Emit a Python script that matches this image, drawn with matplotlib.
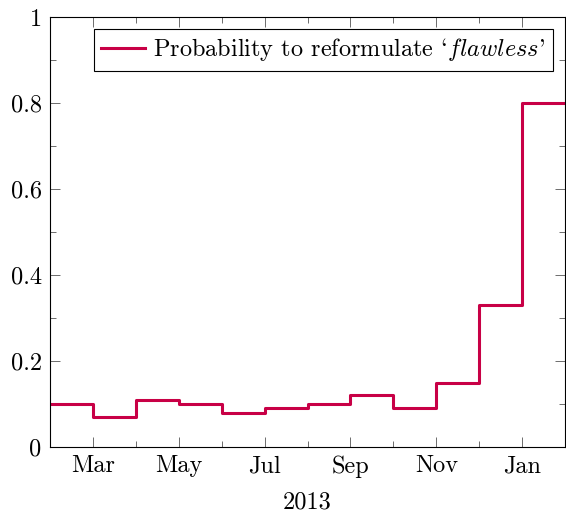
import matplotlib
matplotlib.use('Agg')
import matplotlib.pyplot as plt
from matplotlib.ticker import MultipleLocator, FixedLocator
import numpy as np

# monthly values, Feb 2013 .. Jan 2014 (months are evenly spaced on the axis)
months = ['Feb', 'Mar', 'Apr', 'May', 'Jun', 'Jul', 'Aug', 'Sep', 'Oct', 'Nov', 'Dec', 'Jan']
probability = [0.10, 0.07, 0.11, 0.10, 0.08, 0.09, 0.10, 0.12, 0.09, 0.15, 0.33, 0.80]
x_labeled = ['Mar', 'May', 'Jul', 'Sep', 'Nov', 'Jan']
legend_label = "Probability to reformulate `$\\mathit{flawless}$'"
y_ticks = [0, 0.2, 0.4, 0.6, 0.8, 1]
y_labels = ['0', '0.2', '0.4', '0.6', '0.8', '1']

plt.rcParams['font.family'] = ['cmr10']
plt.rcParams['mathtext.fontset'] = 'cm'
plt.rcParams['axes.unicode_minus'] = False

FS = 17.5

# step needs a closing point at the end of the last month
xs = np.arange(len(months) + 1)
ys = probability + [probability[-1]]

fig = plt.figure(figsize=(5.66, 5.15), dpi=100)
ax = fig.add_axes([50 / 566, 68 / 515, 515 / 566, 430 / 515])

ax.step(xs, ys, where='post', color='#C80046', lw=2.2, label=legend_label)

ax.set_xlim(xs[0], xs[-1])
ax.set_ylim(0, 1)

ax.xaxis.set_major_locator(FixedLocator([months.index(m) for m in x_labeled]))
ax.set_xticklabels(x_labeled)
ax.xaxis.set_minor_locator(MultipleLocator(1))
ax.yaxis.set_major_locator(FixedLocator(y_ticks))
ax.set_yticklabels(y_labels)
ax.yaxis.set_minor_locator(MultipleLocator(0.1))

ax.tick_params(which='both', direction='in', top=True, right=True, labelsize=FS,
               width=0.6, color='#555555', pad=6)
ax.tick_params(which='major', length=7)
ax.tick_params(which='minor', length=4.5)
for s in ax.spines.values():
    s.set_linewidth(0.8)

ax.set_xlabel('2013', fontsize=FS, labelpad=10)

leg = ax.legend(loc='upper right', fontsize=FS, fancybox=False, framealpha=1,
                edgecolor='black', handlelength=1.8, handletextpad=0.35,
                borderpad=0.3, borderaxespad=0.5)
leg.get_frame().set_linewidth(0.8)

plt.savefig('out.png', dpi=100)
